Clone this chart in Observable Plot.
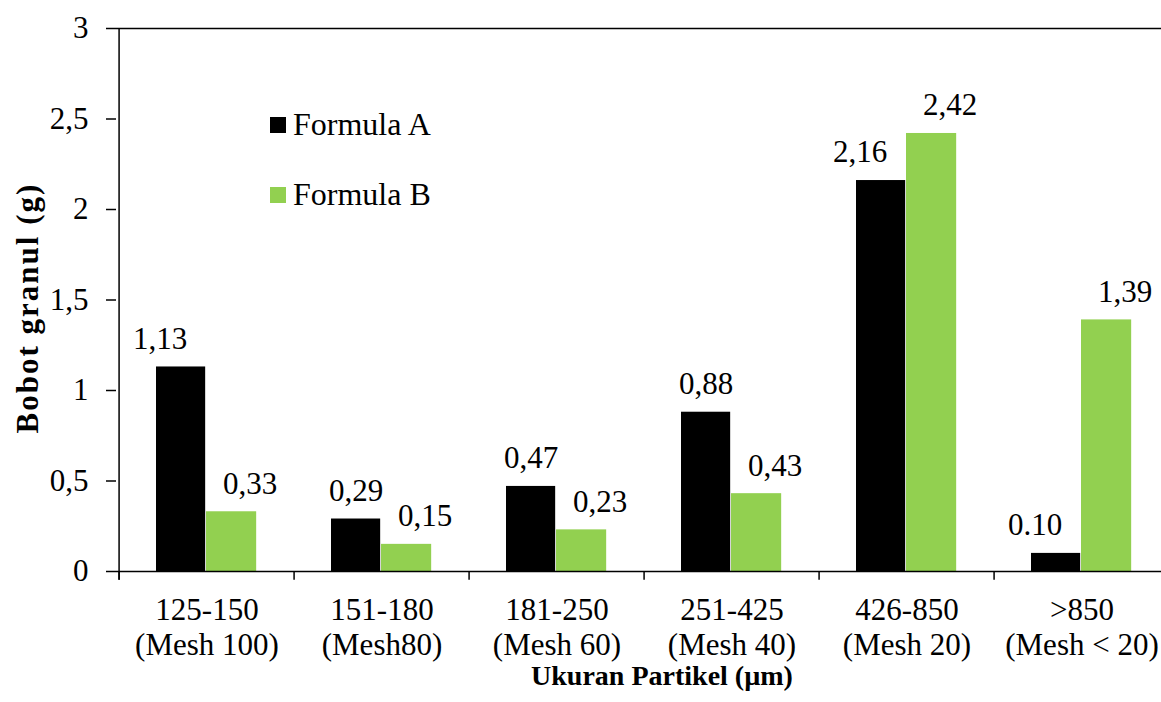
<!DOCTYPE html>
<html>
<head>
<meta charset="utf-8">
<script src="https://cdn.jsdelivr.net/npm/d3@7"></script>
<script src="https://cdn.jsdelivr.net/npm/@observablehq/plot@0.6"></script>
<style>
  html, body { margin: 0; padding: 0; background: #fff; }
  #wrap { position: relative; width: 1161px; height: 702px; overflow: hidden; font-family: "Liberation Serif", "Times New Roman", serif; }
  .leg { position: absolute; display: flex; align-items: center; font-size: 32px; color: #000; white-space: nowrap; }
  .sw { width: 16px; height: 16px; margin-right: 7px; }
  .ytitle { position: absolute; left: 27px; top: 308px; transform: translate(-50%, -50%) rotate(-90deg); font-weight: bold; font-size: 31px; letter-spacing: 2px; line-height: 1; white-space: nowrap; color: #000; }
</style>
</head>
<body>
<div id="wrap"></div>
<script>
// ---- data ----
const categories = ["125-150\n(Mesh 100)", "151-180\n(Mesh80)", "181-250\n(Mesh 60)", "251-425\n(Mesh 40)", "426-850\n(Mesh 20)", ">850\n(Mesh < 20)"];
const seriesNames = ["Formula A", "Formula B"];
const formulaA = [1.13, 0.29, 0.47, 0.88, 2.16, 0.10];
const formulaB = [0.33, 0.15, 0.23, 0.43, 2.42, 1.39];
const labelsA = ["1,13", "0,29", "0,47", "0,88", "2,16", "0.10"];
const labelsB = ["0,33", "0,15", "0,23", "0,43", "2,42", "1,39"];
const yTicks = [0, 0.5, 1, 1.5, 2, 2.5, 3];
const yTickLabels = ["0", "0,5", "1", "1,5", "2", "2,5", "3"];
const yTitle = "Bobot granul (g)";
const xTitle = "Ukuran Partikel (µm)";
const colors = ["#000000", "#92D050"];

// ---- build tables ----
const rowsA = categories.map((c, i) => ({cat: c, value: formulaA[i], label: labelsA[i], i}));
const rowsB = categories.map((c, i) => ({cat: c, value: formulaB[i], label: labelsB[i], i}));

// ---- layout ----
const W = 1161, H = 702;
const mL = 116, mT = 28, mB = 131;
const xRange = [mL, 1171];
const step = (xRange[1] - xRange[0]) / categories.length;
const shiftedA = new Set([0, 4, 5]);

const plot = Plot.plot({
  width: W,
  height: H,
  marginLeft: mL,
  marginRight: 0,
  marginTop: mT,
  marginBottom: mB,
  style: {fontFamily: "Liberation Serif, Times New Roman, serif", fontSize: "31px", color: "#000", background: "#fff"},
  x: {domain: categories, range: xRange, padding: 0, axis: null},
  y: {domain: [0, 3], axis: null},
  marks: [
    // bars
    Plot.barY(rowsA, {x: "cat", y: "value", fill: colors[0], insetLeft: 37, insetRight: step - 87}),
    Plot.barY(rowsB, {x: "cat", y: "value", fill: colors[1], insetLeft: 87, insetRight: step - 138}),
    // axis lines
    Plot.ruleY([0], {stroke: "#000", strokeWidth: 1.5}),
    Plot.ruleY([3], {stroke: "#000", strokeWidth: 1.5}),
    Plot.ruleX([categories[0]], {x: d => d, dx: -step / 2, y1: -0.048, y2: 3, stroke: "#000", strokeWidth: 1.5}),
    Plot.ruleX(categories, {x: d => d, dx: -step / 2, y1: 0, y2: -0.048, stroke: "#000", strokeWidth: 1.5}),
    // y axis
    Plot.axisY({ticks: yTicks, tickFormat: d => yTickLabels[yTicks.indexOf(d)], tickSize: 10, tickPadding: 18, fontSize: 31, strokeWidth: 1.5, label: null}),
    // x axis labels
    Plot.axisX({tickSize: 0, tickPadding: 24, fontSize: 31, lineHeight: 1.13, label: null}),
    // value labels
    Plot.text(rowsA.filter(d => !shiftedA.has(d.i)), {x: "cat", y: "value", text: "label", dx: -26, dy: -28, fontSize: 31}),
    Plot.text(rowsA.filter(d => shiftedA.has(d.i)), {x: "cat", y: "value", text: "label", dx: -47, dy: -28, fontSize: 31}),
    Plot.text(rowsB, {x: "cat", y: "value", text: "label", dx: 43, dy: -28, fontSize: 31}),
    // x title
    Plot.text([xTitle], {frameAnchor: "bottom", text: d => d, textAnchor: "middle", lineAnchor: "middle", dx: 23, dy: 105, fontWeight: "bold", fontSize: 28})
  ]
});

const wrap = document.getElementById("wrap");
wrap.appendChild(plot);

// y title
const yt = document.createElement("div");
yt.className = "ytitle";
yt.textContent = yTitle;
wrap.appendChild(yt);

// legend
const legendPos = [{left: 270, top: 106}, {left: 270, top: 176}];
seriesNames.forEach((name, k) => {
  const item = document.createElement("div");
  item.className = "leg";
  item.style.left = legendPos[k].left + "px";
  item.style.top = legendPos[k].top + "px";
  const sw = document.createElement("div");
  sw.className = "sw";
  sw.style.background = colors[k];
  const t = document.createElement("span");
  t.textContent = name;
  item.appendChild(sw);
  item.appendChild(t);
  wrap.appendChild(item);
});
</script>
</body>
</html>
